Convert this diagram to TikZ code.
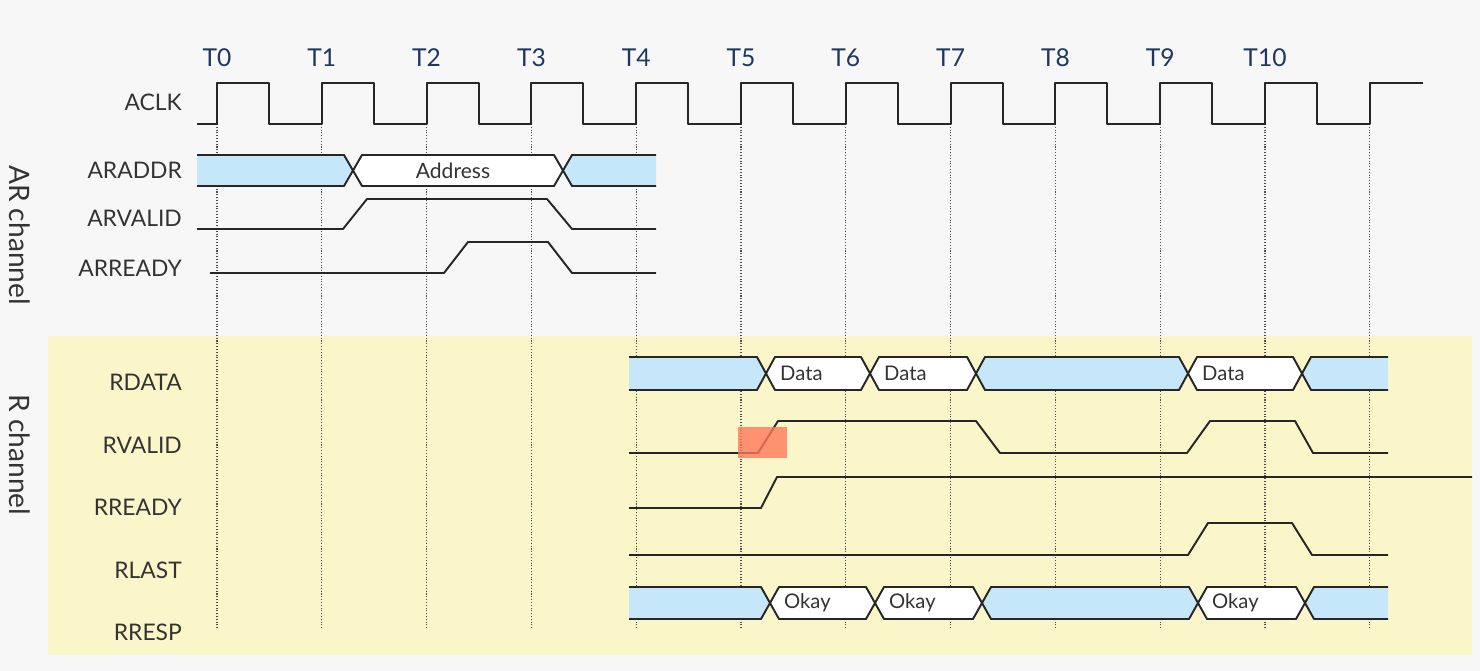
\documentclass[tikz,border=0pt]{standalone}
\usepackage{fontspec}
\setmainfont{Lato}
\usetikzlibrary{positioning}
\definecolor{busblue}{RGB}{198,230,250}
\definecolor{rbg}{RGB}{251,246,202}
\definecolor{tblue}{RGB}{30,55,95}
\definecolor{hilite}{RGB}{255,120,90}

% bus segment with crossings on both sides
\newcommand\busmid[5]{%
  \filldraw[bus, fill=#5] (#1,{(#3+#4)/2}) -- ({#1+9},#3) -- ({#2-9},#3) -- (#2,{(#3+#4)/2})
    -- ({#2-9},#4) -- ({#1+9},#4) -- cycle;}
% bus segment, open on the left
\newcommand\busleft[4]{%
  \fill[busblue] (#1,#3) -- ({#2-9},#3) -- (#2,{(#3+#4)/2}) -- ({#2-9},#4) -- (#1,#4) -- cycle;
  \draw[bus] (#1,#3) -- ({#2-9},#3) -- (#2,{(#3+#4)/2}) -- ({#2-9},#4) -- (#1,#4);}
% bus segment, open on the right
\newcommand\busright[4]{%
  \fill[busblue] (#2,#3) -- ({#1+9},#3) -- (#1,{(#3+#4)/2}) -- ({#1+9},#4) -- (#2,#4) -- cycle;
  \draw[bus] (#2,#3) -- ({#1+9},#3) -- (#1,{(#3+#4)/2}) -- ({#1+9},#4) -- (#2,#4);}

\begin{document}
\begin{tikzpicture}[x=0.02cm, y=-0.02cm,
                    sig/.style={line width=1.1pt, black!85, line join=round},
                    bus/.style={line width=1.1pt, black!85, line join=round},
                    grid/.style={densely dotted, line width=0.6pt, black!70},
                    signame/.style={anchor=east, font=\fontsize{13}{15}\selectfont, black!80},
                    tlabel/.style={font=\fontsize{14}{16}\selectfont, text=tblue},
                    val/.style={anchor=west, font=\fontsize{11.5}{13}\selectfont, black!80},
                    chan/.style={rotate=-90, font=\fontsize{16}{18}\selectfont, black!80}]

  % backdrop
  \fill[black!3] (0,0) rectangle (1480,671);
  \fill[rbg] (48,336) rectangle (1472,655);

  % clock edges and their labels
  \foreach \i in {0,...,11} {
    \pgfmathsetmacro{\ex}{217+104.8*\i}
    \draw[grid] (\ex,124) -- (\ex,630);
  }
  \foreach \i in {0,...,10} {
    \pgfmathsetmacro{\ex}{217+104.8*\i}
    \node[tlabel] (t\i) at (\ex,58) {T\i};
  }

  % signal names
  \node[signame] (aclk)    at (188,102) {ACLK};
  \node[signame] (araddr)  at (188,170) {ARADDR};
  \node[signame] (arvalid) at (188,218) {ARVALID};
  \node[signame] (arready) at (188,268) {ARREADY};
  \node[signame] (rdata)   at (188,382) {RDATA};
  \node[signame] (rvalid)  at (188,445) {RVALID};
  \node[signame] (rready)  at (188,507) {RREADY};
  \node[signame] (rlast)   at (188,570) {RLAST};
  \node[signame] (rresp)   at (188,632) {RRESP};
  \node[chan] (arch) at (20,235) {AR channel};
  \node[chan] (rch)  at (20,455) {R channel};

  % clock
  \draw[sig] (197,124)
    \foreach \i in {0,...,10} {
      -- ({217+104.8*\i},124) -- ({217+104.8*\i},83)
      -- ({269+104.8*\i},83) -- ({269+104.8*\i},124) }
    -- (1370,124) -- (1370,83) -- (1423,83);

  % AR channel
  \busleft{197}{353}{155}{186}
  \busmid{353}{563}{155}{186}{white}
  \busright{563}{656}{155}{186}
  \node[font=\fontsize{12}{14}\selectfont, black!80] (addr) at (453,171) {Address};
  \draw[sig] (197,229) -- (343,229) -- (367,199) -- (547,199) -- (572,229) -- (656,229);
  \draw[sig] (210,273) -- (444,273) -- (468,242) -- (548,242) -- (572,273) -- (656,273);

  % R channel
  \busleft{629}{766}{357}{390}
  \busmid{766}{870}{357}{390}{white}
  \busmid{870}{976}{357}{390}{white}
  \busmid{976}{1188}{357}{390}{busblue}
  \busmid{1188}{1302}{357}{390}{white}
  \busright{1302}{1388}{357}{390}
  \node[val] (d1) at (774,373) {Data};
  \node[val] (d2) at (878,373) {Data};
  \node[val] (d3) at (1196,373) {Data};

  \draw[sig] (629,453) -- (758,453) -- (778,421) -- (976,421) -- (1000,453)
    -- (1187,453) -- (1210,421) -- (1295,421) -- (1313,453) -- (1388,453);
  \fill[hilite, opacity=0.8] (738,427) rectangle (787,458);
  \draw[sig] (629,508) -- (761,508) -- (777,477) -- (1472,477);
  \draw[sig] (629,555) -- (1188,555) -- (1208,523) -- (1292,523) -- (1312,555) -- (1388,555);

  \busleft{629}{770}{587}{619}
  \busmid{770}{875}{587}{619}{white}
  \busmid{875}{982}{587}{619}{white}
  \busmid{982}{1198}{587}{619}{busblue}
  \busmid{1198}{1305}{587}{619}{white}
  \busright{1305}{1388}{587}{619}
  \node[val] (o1) at (778,603) {Okay};
  \node[val] (o2) at (883,603) {Okay};
  \node[val] (o3) at (1206,603) {Okay};
\end{tikzpicture}
\end{document}
